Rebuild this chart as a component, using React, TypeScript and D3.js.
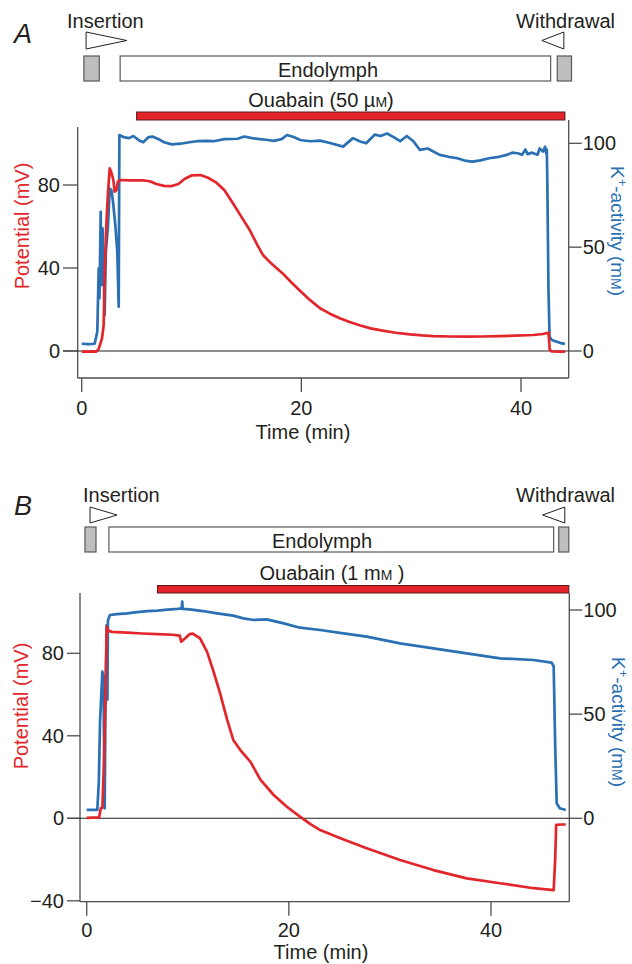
import React from "react";
import * as d3 from "d3";

const RED = "#e2262b";
const BLUE = "#2a70b3";
const INK = "#231f20";
const AXIS = "#4d4d4d";
const FONT = "'Liberation Sans', Arial, Helvetica, sans-serif";

// tick values
const timeTicks = [0, 20, 40];
const potTicksA = [0, 40, 80];
const potTicksB = [-40, 0, 40, 80];
const kTicks = [0, 50, 100];

// Panel A: potential (mV) vs time (min)
const potentialA: [number, number][] = [
  [0, -0.3], [0.5, -0.3], [1.0, -0.2], [1.33, -0.3], [1.55, 1], [1.85, 6.1], [2.0, 12.5], [2.09, 36.6],
  [2.24, 60.7], [2.4, 76.8], [2.55, 88], [2.7, 86], [2.88, 82.4], [3.0, 76.8], [3.15, 77.5], [3.3, 81.6],
  [3.5, 82.4], [4.5, 82.2], [5.5, 82.3], [6.2, 81.8], [6.8, 80.5], [7.5, 79.6], [8.2, 79.5], [8.8, 80.5],
  [9.4, 83], [10, 84.6], [10.8, 84.8], [11.5, 83.5], [12.3, 81], [13, 77.5], [13.8, 71], [14.5, 65],
  [15.3, 58.3], [16, 51], [16.5, 46.3], [17.3, 42], [18.3, 37.4], [19.1, 33], [19.85, 29.2], [20.8, 24.5],
  [21.7, 20.6], [22.6, 18.0], [23.5, 15.8], [24.4, 14.0], [25.3, 12.4], [26.3, 10.9], [27.4, 9.8],
  [28.6, 8.8], [29.9, 8.0], [31, 7.5], [32, 7.2], [33.5, 7.0], [35.1, 6.9], [36.5, 7.0], [38, 7.2],
  [39.5, 7.4], [41.1, 7.7], [42, 8.2], [42.5, 8.8], [42.62, 0.5], [42.8, -0.2], [43.5, -0.3], [44.0, -0.3],
];

// Panel A: K+ activity (mM) vs time (min)
const potassiumA: [number, number][] = [
  [0, 3.5], [0.6, 3.3], [1.18, 3.5], [1.42, 9.3], [1.55, 39.8], [1.62, 25.4], [1.73, 67], [1.8, 31.8],
  [1.9, 59], [2.09, 17.3], [2.2, 47.8], [2.4, 60.7], [2.55, 78.3], [2.7, 77.5], [2.85, 71.9], [3.06, 60.7],
  [3.24, 47.8], [3.37, 21.3], [3.43, 104], [3.8, 103], [4.3, 102.5], [4.7, 103.5], [5.2, 101.5], [5.6, 100.5],
  [6.1, 103], [6.5, 103.2], [7, 102], [7.5, 100.5], [8.2, 99.5], [9, 99.8], [9.8, 100.5], [10.5, 101],
  [11.3, 101.2], [12, 101], [13, 102], [14.2, 102.2], [14.8, 103.3], [15.5, 102.5], [16.2, 102],
  [16.8, 101.7], [17.5, 101.2], [18.2, 102], [18.7, 104], [19.3, 103], [19.9, 101.6], [20.8, 101],
  [21.7, 101.3], [22.7, 100], [23.8, 98.4], [24.7, 102.5], [25.3, 101], [25.9, 100], [26.7, 104.2],
  [27.2, 103.5], [27.8, 104.7], [28.4, 103], [29, 101], [29.6, 103.5], [30.2, 101], [30.8, 96.8],
  [31.5, 97.5], [32.6, 94.4], [33.4, 93.5], [34.2, 92.8], [35, 91.5], [35.6, 91.2], [36.3, 91.8],
  [37.1, 92.8], [38, 93.5], [38.7, 94.4], [39.2, 95.5], [39.7, 95.2], [40.1, 94.5], [40.4, 97], [40.6, 94.8],
  [41, 95.5], [41.5, 94.5], [41.7, 97.5], [42, 96], [42.2, 98.4], [42.3, 95], [42.35, 97], [42.4, 80],
  [42.5, 30], [42.6, 6.9], [42.8, 5.3], [43.2, 4.6], [43.6, 3.8], [44.0, 3.4],
];

// Panel B: potential (mV) vs time (min)
const potentialB: [number, number][] = [
  [0, 0.2], [0.6, 0.3], [1.22, 0.3], [1.39, 4.8], [1.55, 5], [1.71, 27.4], [1.85, 59.8], [1.98, 93],
  [2.1, 91], [2.5, 90.4], [4, 90], [5.5, 89.6], [7, 89.3], [8.5, 89], [9.2, 88.6], [9.35, 85.6], [9.8, 87.5],
  [10.2, 89.3], [10.5, 89.5], [11.2, 87.3], [11.9, 80.8], [12.5, 71.9], [13.2, 60.6], [13.9, 47.7],
  [14.5, 38], [15.2, 33.1], [16.2, 27.4], [17.2, 18.6], [18.5, 11.3], [19.8, 5.6], [21.1, 0.8],
  [22.1, -2.7], [23.1, -5.7], [25.1, -9.7], [27.7, -14.5], [31, -20.2], [34.3, -25.1], [37.6, -29.1],
  [40.9, -31.5], [44.2, -33.9], [46.2, -34.8], [46.35, -20], [46.45, -3.2], [47, -3], [47.4, -3],
];

// Panel B: K+ activity (mM) vs time (min)
const potassiumB: [number, number][] = [
  [0, 4], [0.6, 4], [1.05, 4], [1.2, 17.6], [1.32, 46.4], [1.45, 60], [1.55, 70.4], [1.65, 68], [1.78, 4.8],
  [1.85, 50], [1.98, 92.8], [2.05, 57], [2.1, 95], [2.3, 97.6], [3, 98], [4, 98.4], [5, 99], [6, 99.5],
  [7, 99.7], [8, 100.2], [9, 100.5], [9.4, 100.8], [9.45, 104], [9.5, 100.5], [10.2, 100.3], [11.5, 99.5],
  [12.9, 98.4], [14.5, 97.3], [15.5, 96], [16.5, 95.2], [17.8, 95.5], [19.5, 93.6], [21.1, 91.5],
  [23.1, 90.4], [25.4, 88.8], [27.7, 87.2], [31, 84], [34.3, 81.6], [37.6, 79.2], [40.9, 76.8],
  [44.2, 76], [46, 74.7], [46.2, 73], [46.35, 35], [46.5, 7.2], [46.8, 4.8], [47.4, 4],
];

// protocol (minutes): [start, end]
const insertionA = [0.4, 4.1];
const preBoxA = [0.2, 1.6];
const endolymphA = [3.5, 42.7];
const postBoxA = [43.3, 44.6];
const withdrawalA = [41.9, 43.9];
const ouabainA = [5.0, 44.0];

const insertionB = [0.33, 3.0];
const preBoxB = [-0.17, 0.92];
const endolymphB = [2.2, 46.2];
const postBoxB = [46.7, 47.7];
const withdrawalB = [45.1, 47.3];
const ouabainB = [7.0, 47.7];

type Layout = {
  letter: string; letterY: number;
  insX: number; labelY: number;
  triTop: number; triBot: number;
  boxTop: number; boxBot: number; endoX: number; endoY: number;
  ouabX: number; ouabY: number; barTop: number; barBot: number;
  ouabConc: React.ReactNode;
  x0: number; x40: number; y0: number; y80: number; yK100: number;
  axL: number; axR: number; axLTop: number; axRTop: number; axBot: number; zeroL: number;
  tickLabY: number; timeX: number; timeY: number;
  potLabX: number; potLabY: number; kLabX: number; kLabY: number;
};

function Panel({ L, pot, k, potTicks, proto }: {
  L: Layout; pot: [number, number][]; k: [number, number][]; potTicks: number[];
  proto: { ins: number[]; pre: number[]; endo: number[]; post: number[]; wd: number[]; ouab: number[] };
}) {
  const x = d3.scaleLinear().domain([0, 40]).range([L.x0, L.x40]);
  const yL = d3.scaleLinear().domain([0, 80]).range([L.y0, L.y80]);
  const yR = d3.scaleLinear().domain([0, 100]).range([L.y0, L.yK100]);
  const lineL = d3.line<[number, number]>().x(d => x(d[0])).y(d => yL(d[1]));
  const lineR = d3.line<[number, number]>().x(d => x(d[0])).y(d => yR(d[1]));
  const triMid = (L.triTop + L.triBot) / 2;
  const fs = 20;
  return (
    <g>
      {/* header */}
      <text x={14} y={L.letterY} fontSize={27} fontStyle="italic" fill={INK}>{L.letter}</text>
      <text x={L.insX} y={L.labelY} fontSize={fs} fill={INK}>Insertion</text>
      <text x={615} y={L.labelY} fontSize={fs} fill={INK} textAnchor="end">Withdrawal</text>
      <polygon points={`${x(proto.ins[0])},${L.triTop} ${x(proto.ins[0])},${L.triBot} ${x(proto.ins[1])},${triMid}`}
        fill="#fff" stroke={INK} strokeWidth={1} />
      <polygon points={`${x(proto.wd[1])},${L.triTop} ${x(proto.wd[1])},${L.triBot} ${x(proto.wd[0])},${triMid}`}
        fill="#fff" stroke={INK} strokeWidth={1} />
      <rect x={x(proto.pre[0])} y={L.boxTop} width={x(proto.pre[1]) - x(proto.pre[0])} height={L.boxBot - L.boxTop}
        fill="#bcbec0" stroke="#58595b" strokeWidth={1.2} />
      <rect x={x(proto.post[0])} y={L.boxTop} width={x(proto.post[1]) - x(proto.post[0])} height={L.boxBot - L.boxTop}
        fill="#bcbec0" stroke="#58595b" strokeWidth={1.2} />
      <rect x={x(proto.endo[0])} y={L.boxTop} width={x(proto.endo[1]) - x(proto.endo[0])} height={L.boxBot - L.boxTop}
        fill="#fff" stroke="#58595b" strokeWidth={1.2} />
      <text x={L.endoX} y={L.endoY} fontSize={fs} fill={INK} textAnchor="middle">Endolymph</text>
      <text x={L.ouabX} y={L.ouabY} fontSize={fs} fill={INK} textAnchor="middle">{L.ouabConc}</text>
      <rect x={x(proto.ouab[0])} y={L.barTop} width={x(proto.ouab[1]) - x(proto.ouab[0])} height={L.barBot - L.barTop}
        fill="#e3222a" stroke="#5a1a1a" strokeWidth={1} />

      {/* axes frame */}
      <line x1={L.axL} x2={L.axL} y1={L.axLTop} y2={L.axBot} stroke={AXIS} strokeWidth={1.3} />
      <line x1={L.axR} x2={L.axR} y1={L.axRTop} y2={L.axBot} stroke={AXIS} strokeWidth={1.3} />
      <line x1={L.axL} x2={L.axR} y1={L.axBot} y2={L.axBot} stroke={AXIS} strokeWidth={1.3} />
      {/* zero line */}
      <line x1={L.zeroL} x2={L.axR} y1={yL(0)} y2={yL(0)} stroke={INK} strokeWidth={1.1} />

      {/* x ticks */}
      {timeTicks.map(t => (
        <g key={"xt" + t}>
          <line x1={x(t)} x2={x(t)} y1={L.axBot} y2={L.axBot + 14} stroke={AXIS} strokeWidth={1.3} />
          <text x={x(t)} y={L.tickLabY} fontSize={fs} fill={INK} textAnchor="middle">{t}</text>
        </g>
      ))}
      <text x={L.timeX} y={L.timeY} fontSize={fs} fill={INK} textAnchor="middle">Time (min)</text>

      {/* left ticks */}
      {potTicks.map(v => (
        <g key={"yl" + v}>
          <line x1={L.zeroL} x2={L.axL} y1={yL(v)} y2={yL(v)} stroke={AXIS} strokeWidth={1.3} />
          <text x={L.zeroL - 3} y={yL(v) + 7} fontSize={fs} fill={INK} textAnchor="end">{v < 0 ? "\u2212" + Math.abs(v) : v}</text>
        </g>
      ))}
      {/* right ticks */}
      {kTicks.map(v => (
        <g key={"yr" + v}>
          <line x1={L.axR} x2={L.axR + 13} y1={yR(v)} y2={yR(v)} stroke={AXIS} strokeWidth={1.3} />
          <text x={L.axR + 14} y={yR(v) + 7} fontSize={fs} fill={INK}>{v}</text>
        </g>
      ))}

      {/* axis titles */}
      <text transform={`translate(${L.potLabX},${L.potLabY}) rotate(-90)`} fontSize={fs} fill={RED} textAnchor="middle">
        Potential (mV)
      </text>
      <text transform={`translate(${L.kLabX},${L.kLabY}) rotate(90)`} fontSize={19} fill={BLUE} textAnchor="middle">
        K<tspan dy={-7} fontSize={13}>+</tspan><tspan dy={7}>-activity (m</tspan><tspan fontSize={14}>M</tspan>)
      </text>

      {/* traces */}
      <path d={lineR(k) || ""} fill="none" stroke={BLUE} strokeWidth={2.7} strokeLinejoin="round" />
      <path d={lineL(pot) || ""} fill="none" stroke={RED} strokeWidth={2.7} strokeLinejoin="round" />
    </g>
  );
}

const layoutA: Layout = {
  letter: "A", letterY: 43,
  insX: 67, labelY: 28, triTop: 32, triBot: 49,
  boxTop: 56, boxBot: 81, endoX: 328, endoY: 77,
  ouabX: 321, ouabY: 107, barTop: 112, barBot: 120,
  ouabConc: <>Ouabain (50 µ<tspan fontSize={14}>M</tspan>)</>,
  x0: 81.7, x40: 521, y0: 351, y80: 185, yK100: 143.3,
  axL: 77.7, axR: 568.7, axLTop: 127, axRTop: 120, axBot: 378, zeroL: 63,
  tickLabY: 415, timeX: 303, timeY: 439,
  potLabX: 29, potLabY: 226, kLabX: 611, kLabY: 231,
};

const layoutB: Layout = {
  letter: "B", letterY: 515,
  insX: 83, labelY: 502, triTop: 507, triBot: 523,
  boxTop: 527, boxBot: 552, endoX: 322, endoY: 548,
  ouabX: 332, ouabY: 580, barTop: 585.5, barBot: 593,
  ouabConc: <>Ouabain (1 m<tspan fontSize={14}>M</tspan> )</>,
  x0: 86.7, x40: 491, y0: 818.3, y80: 653.3, yK100: 610,
  axL: 80, axR: 569.3, axLTop: 593, axRTop: 593, axBot: 901.7, zeroL: 67,
  tickLabY: 937, timeX: 321, timeY: 959,
  potLabX: 28, potLabY: 706, kLabX: 612, kLabY: 722,
};

export default function App() {
  return (
    <svg width={632} height={964} style={{ position: "absolute", left: 0, top: 0, background: "#fff" }}
      fontFamily={FONT}>
      <Panel L={layoutA} pot={potentialA} k={potassiumA} potTicks={potTicksA}
        proto={{ ins: insertionA, pre: preBoxA, endo: endolymphA, post: postBoxA, wd: withdrawalA, ouab: ouabainA }} />
      <Panel L={layoutB} pot={potentialB} k={potassiumB} potTicks={potTicksB}
        proto={{ ins: insertionB, pre: preBoxB, endo: endolymphB, post: postBoxB, wd: withdrawalB, ouab: ouabainB }} />
    </svg>
  );
}
